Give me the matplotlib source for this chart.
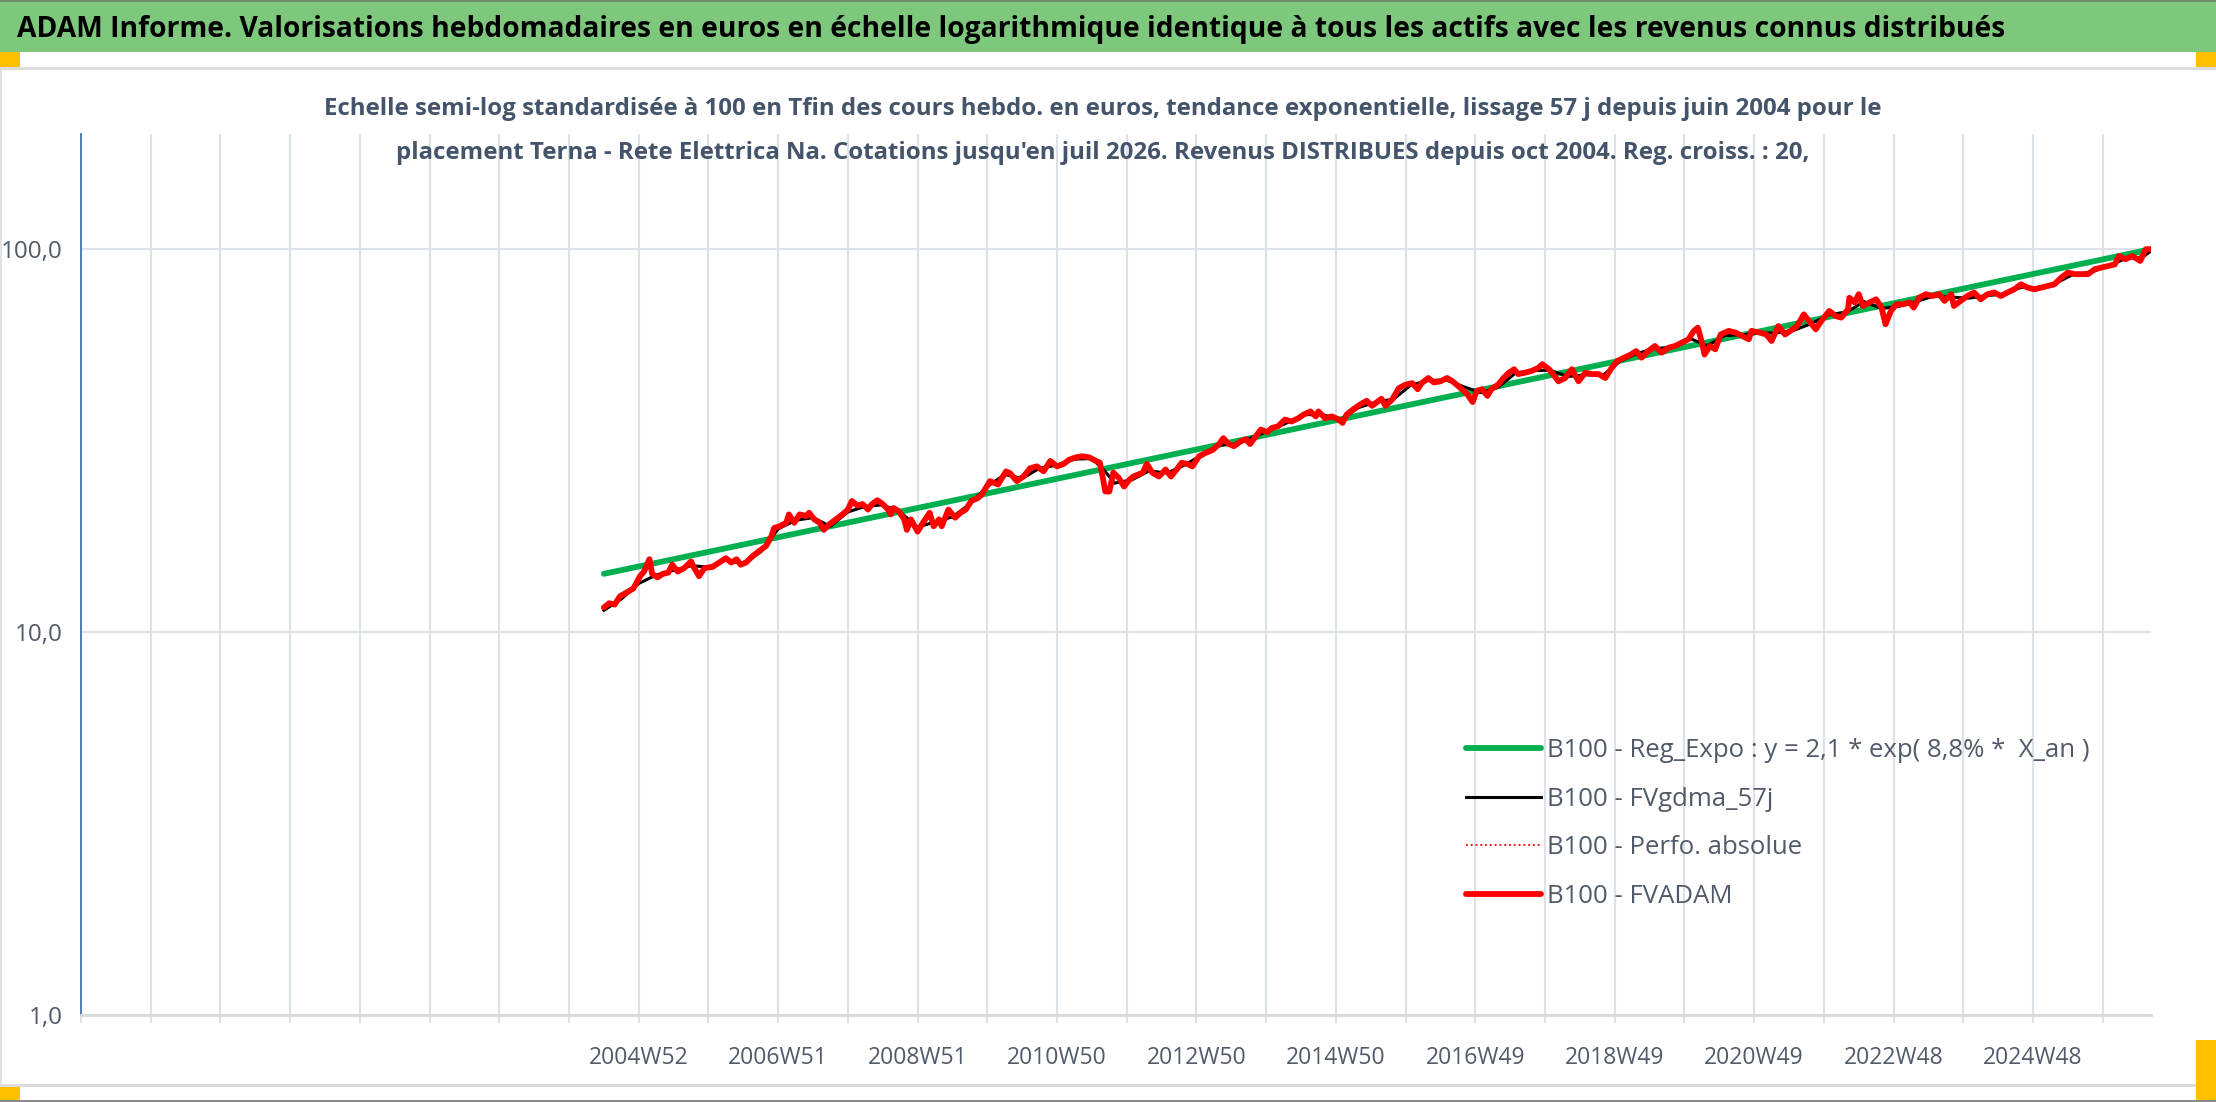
import matplotlib
matplotlib.use('Agg')
import matplotlib.pyplot as plt
from matplotlib import font_manager
from matplotlib.patches import Rectangle
from matplotlib.ticker import FixedLocator, NullLocator

# --- data (x = weeks counted from 2004W52) ---
red_weeks = [-26, -22, -18, -14, -9, -4, 1, 4, 8, 10, 14, 18, 22, 25, 29, 34, 39, 41, 45, 49,
             55, 60, 65, 69, 73, 76, 80, 85, 90, 95, 99, 101, 105, 110, 112, 116, 120, 125, 127, 131,
             135, 138, 142, 147, 152, 156, 159, 163, 167, 171, 174, 178, 182, 186, 188, 190, 194, 198, 200, 203,
             208, 212, 217, 220, 224, 226, 231, 236, 240, 244, 248, 253, 256, 262, 268, 274, 277, 282, 287, 292,
             297, 302, 307, 312, 317, 321, 326, 331, 336, 341, 344, 346, 348, 351, 354, 358, 362, 366, 369, 376,
             379, 383, 388, 393, 397, 402, 405, 409, 413, 418, 423, 428, 433, 436, 440, 444, 449, 453, 456, 464,
             469, 472, 477, 482, 487, 492, 496, 501, 505, 507, 512, 517, 521, 525, 528, 533, 538, 543, 547, 554,
             557, 562, 567, 572, 577, 581, 584, 589, 593, 598, 603, 607, 610, 614, 618, 622, 625, 629, 633, 636,
             641, 645, 649, 653, 656, 661, 666, 671, 674, 679, 682, 686, 691, 696, 701, 706, 711, 716, 721, 725,
             730, 735, 740, 744, 748, 753, 758, 763, 768, 773, 778, 783, 787, 790, 793, 795, 799, 803, 807, 813,
             818, 823, 828, 830, 836, 841, 845, 850, 855, 859, 864, 869, 873, 878, 882, 888, 893, 897, 902, 903,
             907, 910, 913, 918, 923, 927, 930, 934, 938, 943, 948, 951, 955, 960, 965, 970, 974, 979, 981, 986,
             991, 996, 1001, 1006, 1011, 1016, 1021, 1026, 1031, 1036, 1041, 1046, 1051, 1056, 1061, 1066, 1071, 1076, 1081, 1086,
             1091, 1096, 1101, 1104, 1109, 1114, 1120, 1124, 1128]
red_vals = [11.6, 11.9, 11.8, 12.4, 12.7, 13.0, 14.0, 14.4, 15.5, 14.2, 13.9, 14.2, 14.3, 15.0, 14.4, 14.7, 15.3, 14.8, 14.0, 14.7,
            14.8, 15.2, 15.6, 15.2, 15.5, 15.0, 15.2, 15.8, 16.3, 16.8, 17.8, 18.7, 18.9, 19.3, 20.3, 19.3, 20.3, 20.1, 20.5, 19.7,
            19.3, 18.5, 19.1, 19.7, 20.3, 20.9, 22.0, 21.4, 21.6, 20.9, 21.6, 22.1, 21.6, 20.9, 20.3, 21.1, 20.7, 19.7, 18.5, 19.7,
            18.3, 19.3, 20.5, 18.9, 19.7, 18.9, 20.9, 19.9, 20.5, 20.9, 22.0, 22.4, 22.9, 24.8, 24.3, 26.3, 26.0, 24.8, 25.5, 26.8,
            27.1, 26.3, 28.0, 27.1, 27.5, 28.2, 28.6, 28.8, 28.6, 28.0, 27.7, 25.5, 23.3, 23.3, 26.1, 25.3, 24.0, 25.0, 25.5, 26.1,
            27.5, 26.1, 25.5, 26.6, 25.5, 26.8, 27.7, 27.5, 27.1, 28.8, 29.4, 29.9, 31.0, 32.1, 31.0, 30.6, 31.5, 31.9, 31.0, 33.8,
            33.3, 34.1, 34.5, 35.9, 35.5, 36.2, 37.0, 37.7, 36.6, 37.7, 36.2, 36.6, 36.1, 35.2, 37.0, 38.2, 39.3, 40.2, 39.0, 40.7,
            39.0, 40.5, 43.4, 44.3, 44.7, 43.1, 44.7, 46.1, 44.9, 45.2, 46.1, 45.2, 44.3, 43.1, 41.8, 39.9, 42.6, 43.1, 41.4, 43.1,
            44.3, 46.1, 47.6, 48.6, 47.2, 47.6, 48.1, 49.0, 50.1, 48.6, 47.2, 45.2, 46.1, 48.6, 45.2, 47.6, 47.2, 47.2, 46.1, 48.6,
            51.1, 52.1, 53.1, 54.2, 52.1, 54.2, 55.9, 53.7, 55.3, 55.9, 57.0, 58.2, 61.2, 62.4, 57.0, 53.1, 55.9, 54.8, 59.9, 61.2,
            60.6, 59.4, 58.2, 61.2, 60.6, 59.9, 57.6, 63.0, 59.9, 61.2, 63.0, 67.6, 64.9, 61.8, 64.9, 69.0, 66.9, 66.3, 69.7, 74.7,
            72.6, 76.3, 71.1, 72.6, 74.0, 70.4, 63.7, 69.0, 71.8, 71.8, 72.6, 70.4, 74.7, 76.3, 75.5, 76.3, 73.3, 76.3, 71.1, 73.3,
            75.5, 77.1, 74.0, 76.3, 77.1, 75.5, 77.1, 78.6, 81.0, 79.4, 78.6, 79.4, 80.2, 81.0, 84.3, 86.9, 86.1, 86.1, 86.1, 88.7,
            89.6, 90.4, 91.3, 96.0, 94.2, 96.0, 93.2, 100.0, 100.0]

black_weeks = [-26, -13, 0, 13, 26, 39, 52, 65, 78, 91, 104, 117, 130, 143, 156, 169, 182, 195, 208, 221,
               234, 247, 260, 273, 286, 299, 312, 325, 338, 347, 355, 368, 381, 394, 407, 420, 433, 446, 459, 472,
               485, 498, 511, 524, 537, 550, 563, 576, 589, 602, 615, 628, 641, 654, 667, 680, 693, 706, 719, 732,
               745, 758, 771, 784, 797, 810, 823, 836, 849, 862, 875, 888, 901, 914, 927, 940, 953, 966, 979, 992,
               1005, 1018, 1031, 1044, 1057, 1070, 1083, 1096, 1109, 1122, 1128]
black_vals = [11.4, 12.2, 13.4, 14.1, 14.5, 14.9, 14.8, 15.4, 15.1, 16.2, 18.6, 19.6, 19.9, 18.9, 20.6, 21.3, 21.5, 20.6, 18.8, 19.4,
              20.0, 21.6, 24.0, 25.8, 25.2, 26.8, 27.3, 28.3, 28.4, 26.5, 24.5, 25.0, 26.4, 26.0, 27.3, 29.0, 30.8, 31.0, 32.4, 33.8,
              35.4, 37.0, 36.9, 35.9, 38.6, 39.9, 40.6, 44.2, 45.4, 45.6, 43.8, 42.2, 43.6, 47.5, 48.2, 48.3, 46.5, 47.0, 46.8, 51.0,
              53.5, 55.0, 55.5, 58.5, 56.0, 59.5, 59.8, 60.4, 60.5, 61.5, 64.0, 67.5, 68.5, 73.0, 70.0, 71.0, 73.0, 75.5, 75.0, 74.5,
              75.6, 76.4, 79.5, 79.2, 81.5, 86.0, 87.0, 90.5, 94.5, 95.5, 99.0]

reg_weeks = [-26, 1128]
reg_vals = [14.2, 100.0]

xtick_labels = ['2004W52', '2006W51', '2008W51', '2010W50', '2012W50', '2014W50',
                '2016W49', '2018W49', '2020W49', '2022W48', '2024W48']
ytick_vals = [1, 10, 100]
ytick_labels = ['1,0', '10,0', '100,0']

title = ("ADAM Informe. Valorisations hebdomadaires en euros en échelle logarithmique "
         "identique à tous les actifs avec les revenus connus distribués")
sub1 = ("Echelle semi-log standardisée à 100 en Tfin des cours hebdo. en euros, tendance exponentielle, "
        "lissage 57 j depuis juin 2004 pour le")
sub2 = ("placement Terna - Rete Elettrica Na. Cotations jusqu'en juil 2026. "
        "Revenus DISTRIBUES depuis oct 2004. Reg. croiss. : 20,")

# --- fonts ---
names = {f.name for f in font_manager.fontManager.ttflist}
narrow = 'Liberation Sans Narrow' if 'Liberation Sans Narrow' in names else 'Open Sans'
TXT = '#515A69'

W, H = 2216, 1102
fig = plt.figure(figsize=(W / 100, H / 100), dpi=100)


def rect(x0, y0, x1, y1, color):
    fig.add_artist(Rectangle((x0 / W, 1 - y1 / H), (x1 - x0) / W, (y1 - y0) / H,
                             transform=fig.transFigure, color=color, lw=0, zorder=0))


def fit(t, target):
    r = fig.canvas.get_renderer()
    w = t.get_window_extent(r).width
    t.set_fontsize(t.get_fontsize() * target / w)


# frame decoration
rect(0, 0, W, 52, '#7EC87E')
rect(0, 0, W, 2, '#6E8E6E')
rect(0, 52, 20, 70, '#FFC000')
rect(W - 20, 52, W, 70, '#FFC000')
rect(0, 67, W, 70, '#DCDCDC')
rect(0, 70, 2, 1086, '#E2E2E2')
rect(0, 1084, W, 1087, '#DCDCDC')
rect(0, 1087, 20, 1100, '#FFC000')
rect(W - 20, 1040, W, 1100, '#FFC000')
rect(0, 1100, W, H, '#8A8A8A')

t = fig.text(17 / W, 1 - 29 / H, title, ha='left', va='center', fontweight='bold',
             family=narrow, color='black', fontsize=24)
fit(t, 1987)

s1 = fig.text(1103 / W, 1 - 109 / H, sub1, ha='center', va='center', fontweight='bold',
              family='Open Sans', color='#44546A', fontsize=16)
fit(s1, 1562)
s2 = fig.text(1103 / W, 1 - 153 / H, sub2, ha='center', va='center', fontweight='bold',
              family='Open Sans', color='#44546A', fontsize=s1.get_fontsize())

# --- chart ---
ax = fig.add_axes([81 / W, 1 - 1015 / H, (2151 - 81) / W, (1015 - 134) / H])
ax.set_yscale('log')
ax.set_ylim(1, 200)
ax.set_xlim(-416, 1128)

ax.plot(reg_weeks, reg_vals, color='#00B050', lw=4.2, solid_capstyle='round',
        label='B100 - Reg_Expo : y = 2,1 * exp( 8,8% *  X_an )', zorder=2)
ax.plot(black_weeks, black_vals, color='black', lw=2.2, label='B100 - FVgdma_57j', zorder=3)
ax.plot(red_weeks, red_vals, color='red', lw=1.3, ls=':', label='B100 - Perfo. absolue', zorder=3.5)
ax.plot(red_weeks, red_vals, color='#FF0000', lw=4.2, solid_joinstyle='round',
        solid_capstyle='round', label='B100 - FVADAM', zorder=4)

grid_pos = list(range(-416, 1128, 52))
grid_lab = []
for p in grid_pos:
    if p >= 0 and p % 104 == 0:
        grid_lab.append(xtick_labels[p // 104])
    else:
        grid_lab.append('')
ax.set_xticks(grid_pos)
ax.set_xticklabels(grid_lab)
ax.yaxis.set_major_locator(FixedLocator(ytick_vals))
ax.yaxis.set_minor_locator(NullLocator())
ax.set_yticklabels(ytick_labels)

ax.grid(True, color='#DDE2E9', lw=1.5)
ax.set_axisbelow(True)
ax.tick_params(axis='y', length=0, pad=13, labelsize=17.5, labelcolor=TXT)
ax.tick_params(axis='x', length=6, width=1.5, color='#DDE2E9', pad=16, labelsize=16.5, labelcolor=TXT)
for lab in ax.get_xticklabels() + ax.get_yticklabels():
    lab.set_family(narrow)
ax.spines['top'].set_visible(False)
ax.spines['right'].set_visible(False)
ax.spines['left'].set_color('#4472C4')
ax.spines['left'].set_linewidth(1.3)
ax.spines['bottom'].set_color('#D9D9D9')
ax.spines['bottom'].set_linewidth(2)

leg = ax.legend(loc='upper left', bbox_to_anchor=(1466 / W, 1 - 738 / H), bbox_transform=fig.transFigure,
                frameon=False, handlelength=2.9, handletextpad=0.25, labelspacing=0.92,
                borderpad=0, borderaxespad=0, prop={'family': narrow, 'size': 18.5})
for txt in leg.get_texts():
    txt.set_color(TXT)

fig.savefig('out.png', dpi=100)
